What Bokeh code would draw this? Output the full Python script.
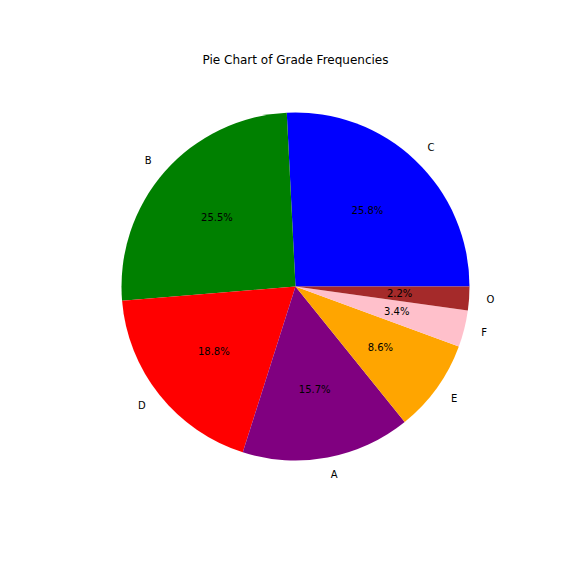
import numpy as np
from bokeh.plotting import figure
from bokeh.models import ColumnDataSource
from bokeh.core.properties import value
from bokeh.embed import file_html
from bokeh.resources import INLINE

grades = ["C", "B", "D", "A", "E", "F", "O"]
percents = [25.8, 25.5, 18.8, 15.7, 8.6, 3.4, 2.2]
colors = ["blue", "green", "red", "purple", "orange", "pink", "brown"]
title_text = "Pie Chart of Grade Frequencies"

W = H = 560
cx, cy, R = 295, 274, 174

vals = np.array(percents, dtype=float)
frac = vals / vals.sum()
ends = np.cumsum(frac) * 2 * np.pi
starts = np.concatenate([[0.0], ends[:-1]])
mids = (starts + ends) / 2

p = figure(width=W, height=H, x_range=(0, W), y_range=(0, H),
           output_backend="svg", toolbar_location=None, min_border=0)
p.axis.visible = False
p.grid.visible = False
p.outline_line_color = None
p.background_fill_color = "white"

src = ColumnDataSource(dict(start=starts, end=ends, color=colors))
p.wedge(x=cx, y=cy, radius=R, start_angle="start", end_angle="end",
        fill_color="color", line_color=None, source=src)

lx = cx + 1.1 * R * np.cos(mids)
ly = cy + 1.1 * R * np.sin(mids)
align = ["left" if np.cos(m) >= 0 else "right" for m in mids]
p.text(x=lx, y=ly, text=grades, text_align=align, text_baseline="middle",
       text_font=value("DejaVu Sans"), text_font_size="10px", text_color="black")

px = cx + 0.6 * R * np.cos(mids)
py = cy + 0.6 * R * np.sin(mids)
pct_labels = [f"{v:.1f}%" for v in frac * 100]
p.text(x=px, y=py, text=pct_labels, text_align="center", text_baseline="middle",
       text_font=value("DejaVu Sans"), text_font_size="10px", text_color="black")

p.text(x=[cx], y=[H - 59], text=[title_text], text_align="center",
       text_baseline="middle", text_font=value("DejaVu Sans"),
       text_font_size="12px", text_color="black")

open("out.html", "w").write(file_html(p, INLINE))
